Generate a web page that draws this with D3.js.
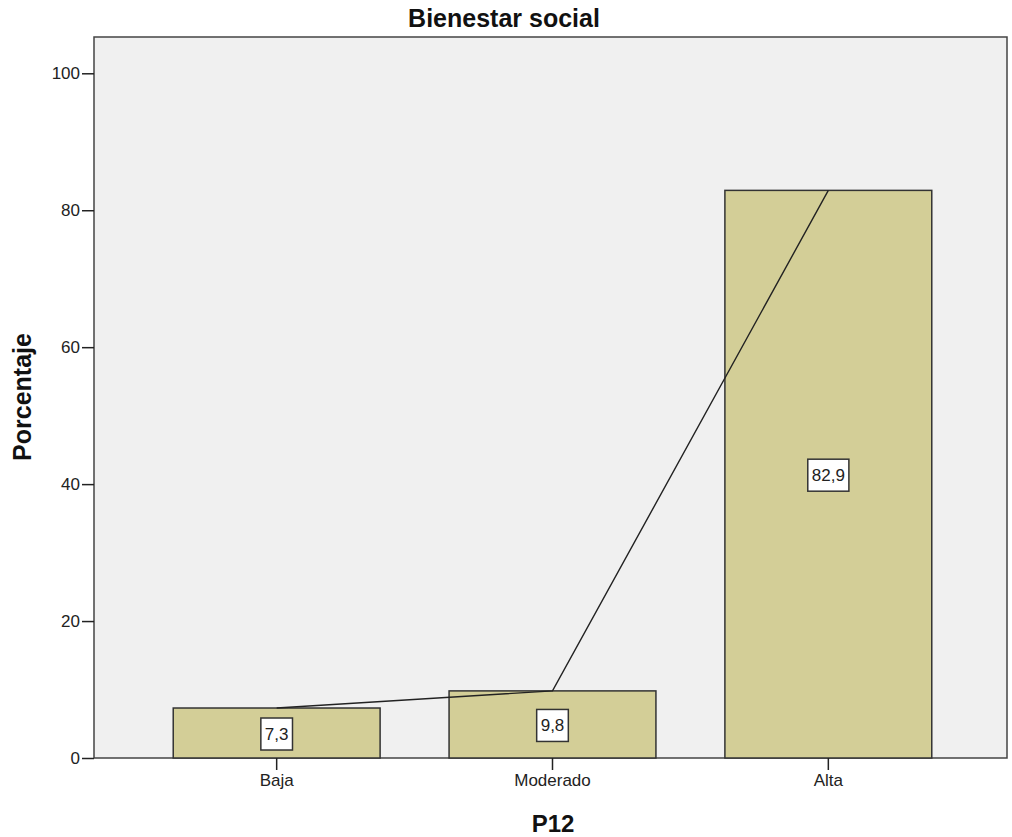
<!DOCTYPE html>
<html><head><meta charset="utf-8">
<script src="https://cdn.jsdelivr.net/npm/d3@7"></script>
<style>body{margin:0;background:#fff;font-family:"Liberation Sans",Arial,sans-serif;}</style>
</head><body><svg id="c" width="1012" height="837"></svg>
<script>
const categories = ["Baja", "Moderado", "Alta"];
const values = [7.3, 9.8, 82.9];
const valueLabels = ["7,3", "9,8", "82,9"];
const yTicks = [0, 20, 40, 60, 80, 100];

const FONT = "Liberation Sans, Arial, sans-serif";
const svg = d3.select("#c");
const L = 94, R = 1007, T = 37, B = 758;
const y = d3.scaleLinear().domain([0, 105.3]).range([B, T]);
const x = d3.scaleBand().domain(categories).range([L + 2, R + 2]).paddingInner(0.25).paddingOuter(0.28);

svg.append("rect").attr("x", L).attr("y", T).attr("width", R - L).attr("height", B - T)
  .attr("fill", "#f0f0f0").attr("stroke", "#444").attr("stroke-width", 1.5);

svg.selectAll(".bar").data(values).enter().append("rect")
  .attr("x", (d, i) => x(categories[i])).attr("y", d => y(d))
  .attr("width", x.bandwidth()).attr("height", d => B - y(d))
  .attr("fill", "#d3ce97").attr("stroke", "#333").attr("stroke-width", 1.5);

const line = d3.line().x((d, i) => x(categories[i]) + x.bandwidth() / 2).y(d => y(d));
svg.append("path").attr("d", line(values)).attr("fill", "none").attr("stroke", "#222").attr("stroke-width", 1.4);

// value labels
values.forEach((v, i) => {
  const cx = x(categories[i]) + x.bandwidth() / 2, cy = y(v / 2) + 1;
  const g = svg.append("g");
  const t = g.append("text").attr("x", cx).attr("y", cy + 6).attr("text-anchor", "middle")
    .attr("font-size", 17).attr("font-family", FONT).attr("fill", "#222").text(valueLabels[i]);
  const bb = t.node().getBBox();
  g.insert("rect", "text").attr("x", cx - bb.width / 2 - 4).attr("y", cy - 16).attr("width", bb.width + 8).attr("height", 32)
    .attr("fill", "#fff").attr("stroke", "#333").attr("stroke-width", 1.5);
});

// y axis
const yAxis = d3.axisLeft(y).tickValues(yTicks).tickSize(12).tickPadding(2);
const gy = svg.append("g").attr("transform", `translate(${L},0)`).call(yAxis);
gy.select(".domain").remove();
gy.selectAll("line").attr("stroke", "#222").attr("stroke-width", 1.5);
gy.selectAll("text").attr("font-size", 17).attr("fill", "#222").attr("font-family", FONT);

// x axis
const xAxis = d3.axisBottom(x).tickSize(12).tickPadding(4);
const gx = svg.append("g").attr("transform", `translate(0,${B})`).call(xAxis);
gx.select(".domain").remove();
gx.selectAll("line").attr("stroke", "#222").attr("stroke-width", 1.5);
gx.selectAll("text").attr("font-size", 17).attr("fill", "#222").attr("font-family", FONT);

svg.append("text").attr("x", 504).attr("y", 27).attr("text-anchor", "middle").attr("font-family", FONT)
  .attr("font-size", 25).attr("font-weight", "bold").attr("fill", "#111").text("Bienestar social");
svg.append("text").attr("transform", `translate(31,397) rotate(-90)`).attr("text-anchor", "middle").attr("font-family", FONT)
  .attr("font-size", 25).attr("font-weight", "bold").attr("fill", "#111").text("Porcentaje");
svg.append("text").attr("x", 553).attr("y", 832).attr("text-anchor", "middle").attr("font-family", FONT)
  .attr("font-size", 24).attr("font-weight", "bold").attr("fill", "#111").text("P12");
</script></body></html>
